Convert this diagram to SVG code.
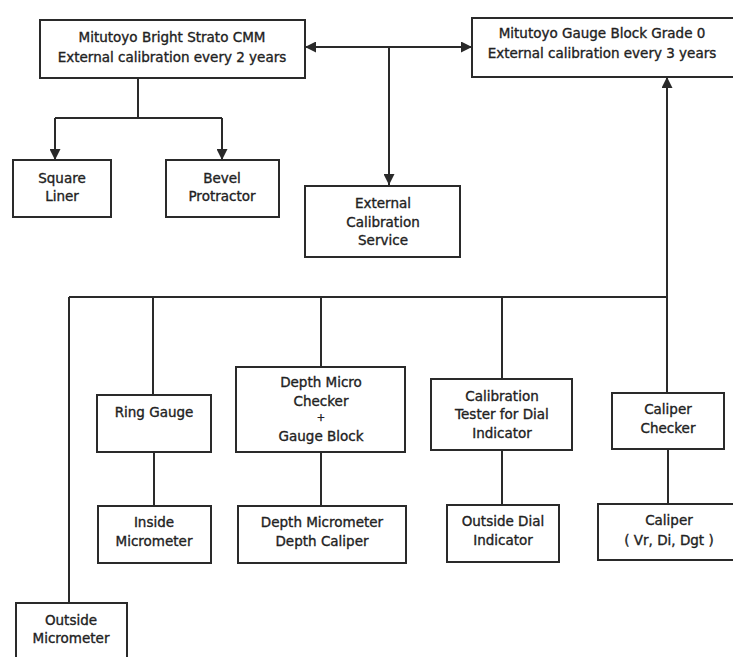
<svg xmlns="http://www.w3.org/2000/svg" width="733" height="657" viewBox="0 0 733 657">
<style>
.box{fill:#fff;stroke:#2a2a2a;stroke-width:2}
.ln{fill:none;stroke:#2a2a2a;stroke-width:2}
text{font-family:"DejaVu Sans","Liberation Sans",sans-serif;font-size:13.5px;fill:#222;stroke:#222;stroke-width:0.35;text-anchor:middle}
.sm{font-size:10px}
</style>
<defs>
<marker id="ah" viewBox="0 0 10 10" refX="10" refY="5" markerWidth="5.5" markerHeight="5.5" orient="auto-start-reverse" markerUnits="strokeWidth">
<path d="M0,0 L10,5 L0,10 z" fill="#2a2a2a"/>
</marker>
</defs>
<rect width="733" height="657" fill="#fff"/>
<g id="connectors">
<path class="ln" d="M138,78 V118 M55,118 H222"/>
<path class="ln" d="M55,118 V160" marker-end="url(#ah)"/>
<path class="ln" d="M222,118 V160" marker-end="url(#ah)"/>
<path class="ln" d="M305,47 H472" marker-start="url(#ah)" marker-end="url(#ah)"/>
<path class="ln" d="M389,47 V185" marker-end="url(#ah)"/>
<path class="ln" d="M667,297 V77" marker-end="url(#ah)"/>
<path class="ln" d="M69,297 H667 V393 M69,297 V603 M153,297 V395 M321,297 V367 M502,297 V379"/>
<path class="ln" d="M154,452 V506 M321,452 V506 M502,450 V505 M668,449 V504"/>
</g>
<g id="cmm">
<rect class="box" x="40" y="20" width="265" height="58"/>
<text x="172" y="42">Mitutoyo Bright Strato CMM</text>
<text x="172" y="62">External calibration every 2 years</text>
</g>
<g id="gauge-block-grade0">
<rect class="box" x="472" y="18" width="262" height="59"/>
<text x="602" y="38">Mitutoyo Gauge Block Grade 0</text>
<text x="602" y="58">External calibration every 3 years</text>
</g>
<g id="square-liner">
<rect class="box" x="13" y="160" width="98" height="57"/>
<text x="62" y="183">Square</text>
<text x="62" y="201">Liner</text>
</g>
<g id="bevel-protractor">
<rect class="box" x="166" y="160" width="113" height="57"/>
<text x="222" y="183">Bevel</text>
<text x="222" y="201">Protractor</text>
</g>
<g id="external-service">
<rect class="box" x="305" y="186" width="155" height="71"/>
<text x="383" y="208">External</text>
<text x="383" y="227">Calibration</text>
<text x="383" y="245">Service</text>
</g>
<g id="ring-gauge">
<rect class="box" x="97" y="395" width="114" height="57"/>
<text x="154" y="417">Ring Gauge</text>
</g>
<g id="inside-micrometer">
<rect class="box" x="98" y="506" width="113" height="57"/>
<text x="154" y="527">Inside</text>
<text x="154" y="546">Micrometer</text>
</g>
<g id="depth-micro-checker">
<rect class="box" x="236" y="367" width="169" height="85"/>
<text x="321" y="387">Depth Micro</text>
<text x="321" y="406">Checker</text>
<text class="sm" x="321" y="421">+</text>
<text x="321" y="441">Gauge Block</text>
</g>
<g id="depth-micrometer">
<rect class="box" x="238" y="506" width="168" height="57"/>
<text x="322" y="527">Depth Micrometer</text>
<text x="322" y="546">Depth Caliper</text>
</g>
<g id="calibration-tester">
<rect class="box" x="431" y="379" width="141" height="71"/>
<text x="502" y="401">Calibration</text>
<text x="502" y="419">Tester for Dial</text>
<text x="502" y="438">Indicator</text>
</g>
<g id="outside-dial-indicator">
<rect class="box" x="447" y="505" width="112" height="57"/>
<text x="503" y="526">Outside Dial</text>
<text x="503" y="545">Indicator</text>
</g>
<g id="caliper-checker">
<rect class="box" x="612" y="393" width="112" height="56"/>
<text x="668" y="414">Caliper</text>
<text x="668" y="433">Checker</text>
</g>
<g id="caliper">
<rect class="box" x="598" y="504" width="140" height="56"/>
<text x="669" y="525">Caliper</text>
<text x="669" y="545">( Vr, Di, Dgt )</text>
</g>
<g id="outside-micrometer">
<rect class="box" x="16" y="603" width="111" height="60"/>
<text x="71" y="625">Outside</text>
<text x="71" y="643">Micrometer</text>
</g>
</svg>
